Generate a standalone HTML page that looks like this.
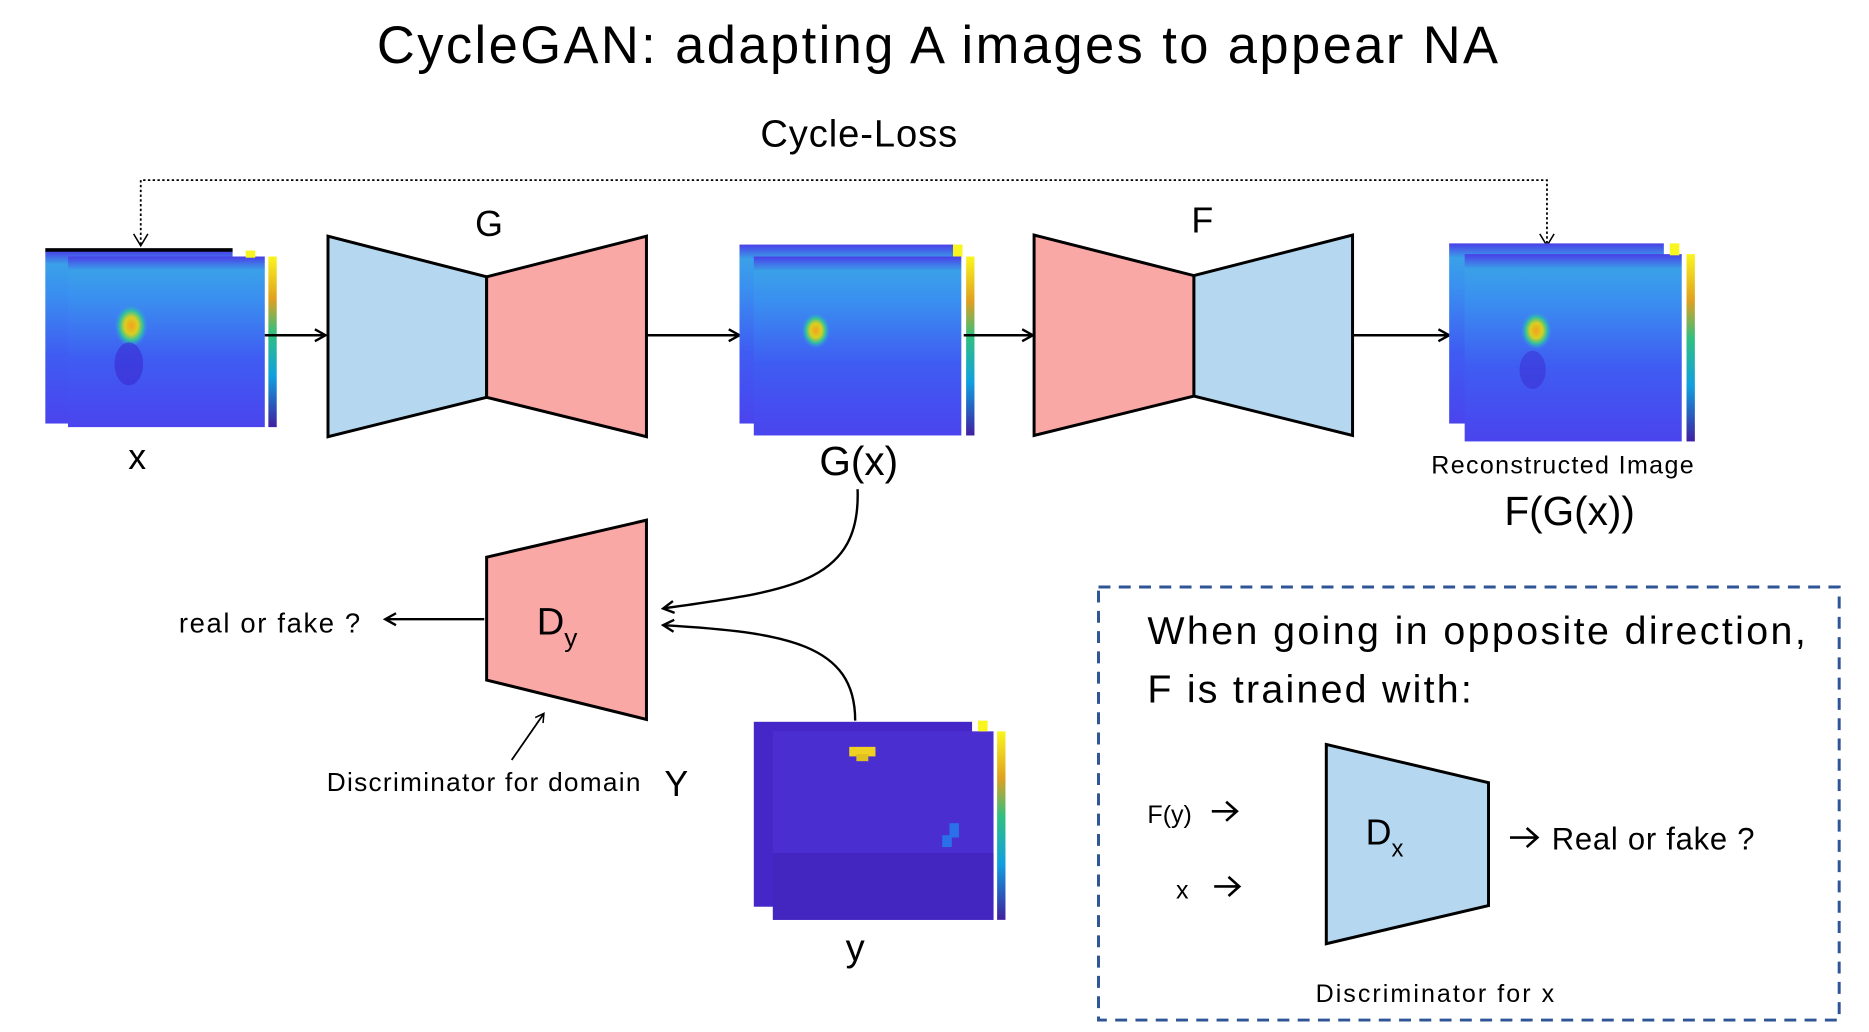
<!DOCTYPE html>
<html><head><meta charset="utf-8"><style>html,body{margin:0;padding:0;background:#fff}svg{display:block}text{font-family:"Liberation Sans",sans-serif;fill:#000}</style></head><body>
<svg width="1869" height="1032" viewBox="0 0 1567 865" preserveAspectRatio="none" xmlns="http://www.w3.org/2000/svg">
<defs>
<marker id="ah" markerWidth="12" markerHeight="12" refX="10" refY="6" orient="auto" markerUnits="userSpaceOnUse"><path d="M1,1 L10,6 L1,11" fill="none" stroke="#000" stroke-width="2"/></marker>
<marker id="ahs" markerWidth="10" markerHeight="10" refX="8" refY="5" orient="auto" markerUnits="userSpaceOnUse"><path d="M1,1 L8,5 L1,9" fill="none" stroke="#000" stroke-width="1.3"/></marker>
<linearGradient id="hm" x1="0" y1="0" x2="0" y2="1"><stop offset="0" stop-color="#4a3fe8"/><stop offset="0.08" stop-color="#3aa0e8"/><stop offset="0.25" stop-color="#3a8ff0"/><stop offset="0.6" stop-color="#3f5cf2"/><stop offset="1" stop-color="#4a44ee"/></linearGradient>
<linearGradient id="cb" x1="0" y1="0" x2="0" y2="1"><stop offset="0" stop-color="#f9f51e"/><stop offset="0.25" stop-color="#e0a020"/><stop offset="0.45" stop-color="#30c080"/><stop offset="0.7" stop-color="#10a0e0"/><stop offset="1" stop-color="#4020a0"/></linearGradient>
<radialGradient id="spot"><stop offset="0" stop-color="#f5a020"/><stop offset="0.4" stop-color="#d8d020"/><stop offset="0.7" stop-color="#30c0a0"/><stop offset="1" stop-color="#3a8ff0" stop-opacity="0"/></radialGradient>
</defs>
<text x="786" y="53" font-size="44" text-anchor="middle" textLength="940">CycleGAN: adapting A images to appear NA</text>
<text x="720" y="123" font-size="32" text-anchor="middle" textLength="165">Cycle-Loss</text>
<path d="M118,205 V151 H1297 V205" fill="none" stroke="#000" stroke-width="1.5" stroke-dasharray="2,2"/>
<path d="M112,196 L118,206 L124,196 M1291,196 L1297,206 L1303,196" fill="none" stroke="#000" stroke-width="1.3"/>
<rect x="38" y="210" width="157" height="145" fill="url(#hm)"/><rect x="38" y="208" width="157" height="3" fill="#000"/>
<rect x="57" y="215" width="165" height="143" fill="url(#hm)"/>
<ellipse cx="110" cy="273" rx="14" ry="18" fill="url(#spot)"/><ellipse cx="108" cy="305" rx="12" ry="18" fill="#3a2ad0" opacity="0.6"/>
<rect x="225" y="215" width="7" height="143" fill="url(#cb)"/><rect x="206" y="210" width="8" height="6" fill="#f9f51e"/>
<polygon points="275,198 408,232 408,333 275,366" fill="#b5d8f0" stroke="#000" stroke-width="2.5"/>
<polygon points="408,232 542,198 542,366 408,333" fill="#f9a8a6" stroke="#000" stroke-width="2.5"/>
<text x="410" y="198" font-size="30" text-anchor="middle">G</text>
<line x1="222" y1="281" x2="273" y2="281" stroke="#000" stroke-width="2" marker-end="url(#ah)"/>
<line x1="542" y1="281" x2="620" y2="281" stroke="#000" stroke-width="2" marker-end="url(#ah)"/>
<rect x="620" y="205" width="180" height="150" fill="url(#hm)"/>
<rect x="632" y="215" width="174" height="150" fill="url(#hm)"/>
<ellipse cx="684" cy="277" rx="12" ry="15" fill="url(#spot)"/>
<rect x="810" y="215" width="7" height="150" fill="url(#cb)"/><rect x="799" y="205" width="8" height="10" fill="#f9f51e"/>
<line x1="808" y1="281" x2="866" y2="281" stroke="#000" stroke-width="2" marker-end="url(#ah)"/>
<polygon points="867,197 1001,231 1001,332 867,365" fill="#f9a8a6" stroke="#000" stroke-width="2.5"/>
<polygon points="1001,231 1134,197 1134,365 1001,332" fill="#b5d8f0" stroke="#000" stroke-width="2.5"/>
<text x="1008" y="195" font-size="30" text-anchor="middle">F</text>
<line x1="1135" y1="281" x2="1215" y2="281" stroke="#000" stroke-width="2" marker-end="url(#ah)"/>
<rect x="1215" y="204" width="180" height="151" fill="url(#hm)"/>
<rect x="1228" y="213" width="182" height="157" fill="url(#hm)"/>
<ellipse cx="1288" cy="277" rx="13" ry="16" fill="url(#spot)"/><ellipse cx="1285" cy="310" rx="11" ry="16" fill="#3a2ad0" opacity="0.5"/>
<rect x="1414" y="213" width="7" height="157" fill="url(#cb)"/><rect x="1400" y="204" width="8" height="10" fill="#f9f51e"/>
<text x="115" y="393" font-size="30" text-anchor="middle">x</text>
<text x="720" y="398" font-size="34" text-anchor="middle">G(x)</text>
<text x="1310" y="397" font-size="21" text-anchor="middle" textLength="220">Reconstructed Image</text>
<text x="1316" y="440" font-size="34" text-anchor="middle">F(G(x))</text>
<polygon points="408,467 542,436 542,603 408,570" fill="#f9a8a6" stroke="#000" stroke-width="2.5"/>
<text x="450" y="532" font-size="32">D<tspan font-size="22" dy="10">y</tspan></text>
<path d="M719,410 C722,490 660,495 556,510" fill="none" stroke="#000" stroke-width="2" marker-end="url(#ah)"/>
<path d="M717,604 C717,540 660,530 556,524" fill="none" stroke="#000" stroke-width="2" marker-end="url(#ah)"/>
<text x="150" y="530" font-size="23" textLength="152">real or fake ?</text>
<line x1="406" y1="519" x2="323" y2="519" stroke="#000" stroke-width="2" marker-end="url(#ah)"/>
<line x1="429" y1="637" x2="456" y2="598" stroke="#000" stroke-width="1.5" marker-end="url(#ahs)"/>
<text x="274" y="663" font-size="22" textLength="263">Discriminator for domain</text>
<text x="567" y="667" font-size="30" text-anchor="middle">Y</text>
<rect x="632" y="605" width="183" height="155" fill="#4527c8"/>
<rect x="648" y="613" width="185" height="158" fill="#4a2ed0"/>
<rect x="648" y="715" width="185" height="56" fill="#4326c0"/>
<rect x="712" y="626" width="22" height="8" fill="#f0d020"/><rect x="718" y="632" width="10" height="6" fill="#e0c020"/>
<rect x="796" y="690" width="8" height="12" fill="#2a70e8"/><rect x="790" y="700" width="8" height="10" fill="#2a70e8"/>
<rect x="836" y="613" width="7" height="158" fill="url(#cb)"/><rect x="820" y="604" width="8" height="9" fill="#f9f51e"/>
<text x="717" y="805" font-size="32" text-anchor="middle">y</text>
<rect x="921" y="492" width="621" height="363" fill="none" stroke="#2f5597" stroke-width="2.5" stroke-dasharray="10,7"/>
<text x="962" y="540" font-size="33" textLength="552">When going in opposite direction,</text>
<text x="962" y="589" font-size="33" textLength="272">F is trained with:</text>
<polygon points="1112,624 1248,656 1248,759 1112,791" fill="#b5d8f0" stroke="#000" stroke-width="2.5"/>
<text x="1145" y="708" font-size="30">D<tspan font-size="20" dy="10">x</tspan></text>
<text x="962" y="690" font-size="21">F(y)</text>
<text x="986" y="753" font-size="21">x</text>
<path d="M1016,680 H1036 M1028,672 L1037,680 L1028,688 M1018,743 H1038 M1030,735 L1039,743 L1030,751 M1266,702 H1288 M1280,694 L1289,702 L1280,710" fill="none" stroke="#000" stroke-width="2.2"/>
<text x="1301" y="712" font-size="26" textLength="170">Real or fake ?</text>
<text x="1103" y="840" font-size="21" textLength="200">Discriminator for x</text>
</svg>
</body></html>
